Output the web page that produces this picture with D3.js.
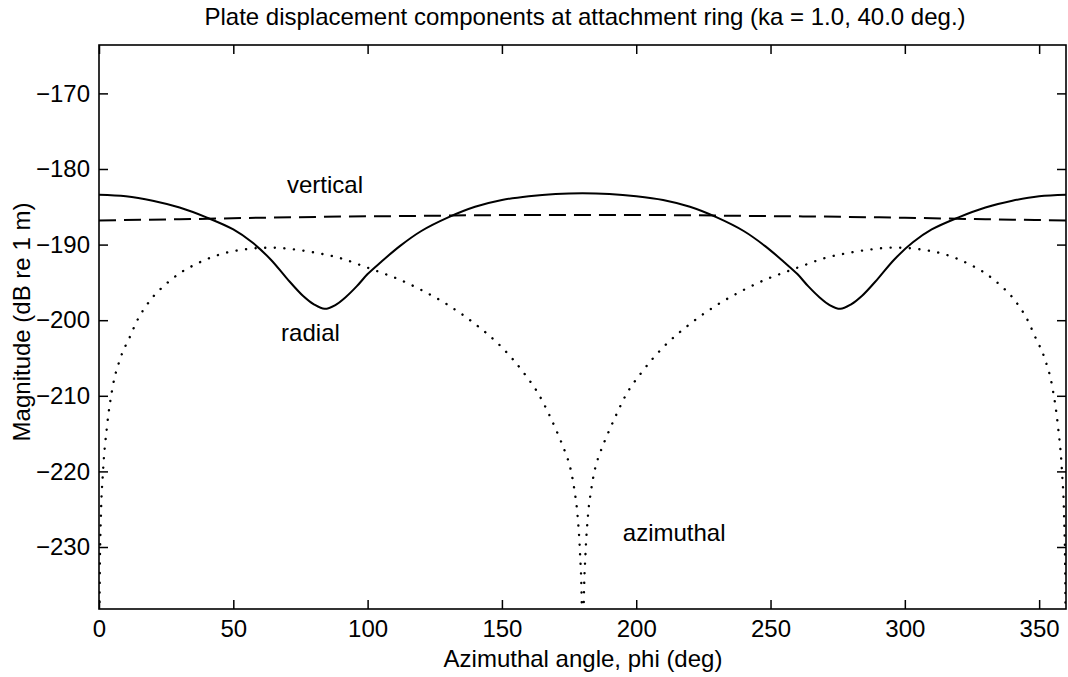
<!DOCTYPE html>
<html>
<head>
<meta charset="utf-8">
<script src="https://cdn.jsdelivr.net/npm/d3@7"></script>
<style>
  html, body { margin: 0; padding: 0; background: #fff; }
  svg { display: block; }
  text { font-family: "Liberation Sans", Arial, Helvetica, sans-serif; fill: #000; }
</style>
</head>
<body>
<svg id="chart" width="1068" height="677"></svg>
<script>
// ---- data ----
const titleText = "Plate displacement components at attachment ring (ka = 1.0, 40.0 deg.)";
const xLabelText = "Azimuthal angle, phi (deg)";
const yLabelText = "Magnitude (dB re 1 m)";
const xTicks = [0, 50, 100, 150, 200, 250, 300, 350];
const yTicks = [-170, -180, -190, -200, -210, -220, -230];
const xDomain = [0, 360];
const yDomain = [-238.2, -163.6];

const radialPhi = [0, 10, 20, 30, 40, 50, 57, 64, 70, 76, 80, 84, 88, 92, 96, 100, 105, 112, 120, 130, 140, 150, 160, 170, 180,
                   190, 200, 210, 220, 230, 240, 248, 255, 260, 264, 268, 272, 276, 280, 284, 290, 296, 303, 310, 320, 330, 340, 350, 360];
const radialDb  = [-183.4, -183.6, -184.2, -185.1, -186.4, -188.0, -189.7, -192.0, -194.5, -196.8, -197.9, -198.5, -198.0, -196.9, -195.5, -193.9, -192.3, -190.2, -188.2, -186.4, -185.0, -184.1, -183.6, -183.3, -183.2,
                   -183.3, -183.6, -184.1, -185.0, -186.4, -188.2, -190.2, -192.3, -193.9, -195.5, -196.9, -198.0, -198.5, -197.9, -196.8, -194.5, -192.0, -189.7, -188.0, -186.4, -185.1, -184.2, -183.6, -183.4];

const verticalPhi = [0, 30, 60, 90, 120, 150, 180, 210, 240, 270, 300, 330, 360];
const verticalDb  = [-186.8, -186.65, -186.45, -186.3, -186.2, -186.1, -186.1, -186.1, -186.2, -186.3, -186.45, -186.65, -186.8];

const azimuthalPhi = [0, 0.3, 0.7, 1.5, 3, 5, 8, 11.5, 14, 19, 25, 30, 36, 45, 55, 64, 74, 81, 90, 98, 105, 111, 120, 130, 140, 150, 158, 164, 168, 171, 173.5, 175.5, 177, 178.2, 179.1, 179.7, 180.1,
                      180.5, 181.1, 182, 183.2, 184.7, 186.7, 189.2, 192.2, 196, 202, 210, 220, 230, 240, 249, 255, 262, 270, 279, 286, 296, 305, 315, 324, 330, 335, 341, 346, 348.5, 352, 355, 357, 358.5, 359.3, 359.7, 360];
const azimuthalDb  = [-250, -233, -226, -220, -214, -209, -205, -202.2, -200.2, -197.4, -195.2, -193.8, -192.6, -191.3, -190.6, -190.4, -190.7, -191.1, -191.8, -192.8, -193.7, -194.5, -196.0, -198.0, -200.5, -203.6, -206.9, -210.0, -212.8, -215.2, -217.4, -219.6, -222.5, -226, -231, -237, -250,
                      -237, -231, -226, -222.5, -219.6, -217.4, -215.2, -212.8, -210.0, -206.9, -203.6, -200.5, -198.0, -196.0, -194.5, -193.7, -192.8, -191.8, -191.1, -190.7, -190.4, -190.6, -191.3, -192.6, -193.8, -195.2, -197.4, -200.2, -202.2, -205, -209, -214, -220, -226, -233, -250];

const labels = [
  { text: "vertical",  phi: 70.0, db: -183.2 },
  { text: "radial",    phi: 67.8, db: -202.8 },
  { text: "azimuthal", phi: 195.0, db: -229.2 }
];

// ---- layout ----
const W = 1068, H = 677;
const plot = { left: 99, right: 1066, top: 45, bottom: 609 };
const svg = d3.select("#chart");

const x = d3.scaleLinear().domain(xDomain).range([plot.left, plot.right]);
const y = d3.scaleLinear().domain(yDomain).range([plot.bottom, plot.top]);

svg.append("defs").append("clipPath").attr("id", "clip")
  .append("rect").attr("x", plot.left).attr("y", plot.top)
  .attr("width", plot.right - plot.left).attr("height", plot.bottom - plot.top);

const fontSize = 24;
const tickLen = 9;

// axes (ticks inward, box on)
const axisStyle = g => {
  g.select(".domain").remove();
  g.selectAll(".tick line").attr("stroke", "#000").attr("stroke-width", 1.5);
  g.selectAll(".tick text").style("font-size", fontSize + "px").attr("fill", "#000");
};

svg.append("g").attr("transform", `translate(0,${plot.bottom})`)
  .call(d3.axisBottom(x).tickValues(xTicks).tickSize(-tickLen).tickPadding(11).tickFormat(d3.format("d")))
  .call(axisStyle);

svg.append("g").attr("transform", `translate(0,${plot.top})`)
  .call(d3.axisTop(x).tickValues(xTicks).tickSize(-tickLen).tickFormat(""))
  .call(axisStyle);

svg.append("g").attr("transform", `translate(${plot.left},0)`)
  .call(d3.axisLeft(y).tickValues(yTicks).tickSize(-tickLen).tickPadding(9).tickFormat(d => "\u2212" + Math.abs(d)))
  .call(axisStyle);

svg.append("g").attr("transform", `translate(${plot.right},0)`)
  .call(d3.axisRight(y).tickValues(yTicks).tickSize(-tickLen).tickFormat(""))
  .call(axisStyle);

// frame
svg.append("rect").attr("x", plot.left).attr("y", plot.top)
  .attr("width", plot.right - plot.left).attr("height", plot.bottom - plot.top)
  .attr("fill", "none").attr("stroke", "#000").attr("stroke-width", 1.6);

// lines
const lines = svg.append("g").attr("clip-path", "url(#clip)");

lines.append("path")
  .datum(d3.zip(verticalPhi, verticalDb))
  .attr("d", d3.line().x(d => x(d[0])).y(d => y(d[1])).curve(d3.curveMonotoneX))
  .attr("fill", "none").attr("stroke", "#000").attr("stroke-width", 2)
  .attr("stroke-dasharray", "17,8");

lines.append("path")
  .datum(d3.zip(radialPhi, radialDb))
  .attr("d", d3.line().x(d => x(d[0])).y(d => y(d[1])).curve(d3.curveCatmullRom.alpha(0.5)))
  .attr("fill", "none").attr("stroke", "#000").attr("stroke-width", 2);

lines.append("path")
  .datum(d3.zip(azimuthalPhi, azimuthalDb))
  .attr("d", d3.line().x(d => x(d[0])).y(d => y(d[1])).curve(d3.curveMonotoneX))
  .attr("fill", "none").attr("stroke", "#000").attr("stroke-width", 2.4)
  .attr("stroke-linecap", "round").attr("stroke-dasharray", "0.1,9.5");

// in-plot labels
svg.append("g").selectAll("text").data(labels).join("text")
  .attr("x", d => x(d.phi)).attr("y", d => y(d.db))
  .style("font-size", fontSize + "px")
  .text(d => d.text);

// title and axis labels
svg.append("text").attr("x", 585).attr("y", 25)
  .attr("text-anchor", "middle").style("font-size", fontSize + "px").text(titleText);

svg.append("text").attr("x", 583).attr("y", 667)
  .attr("text-anchor", "middle").style("font-size", fontSize + "px").text(xLabelText);

svg.append("text").attr("transform", `translate(30,322) rotate(-90)`)
  .attr("text-anchor", "middle").style("font-size", fontSize + "px").text(yLabelText);
</script>
</body>
</html>
